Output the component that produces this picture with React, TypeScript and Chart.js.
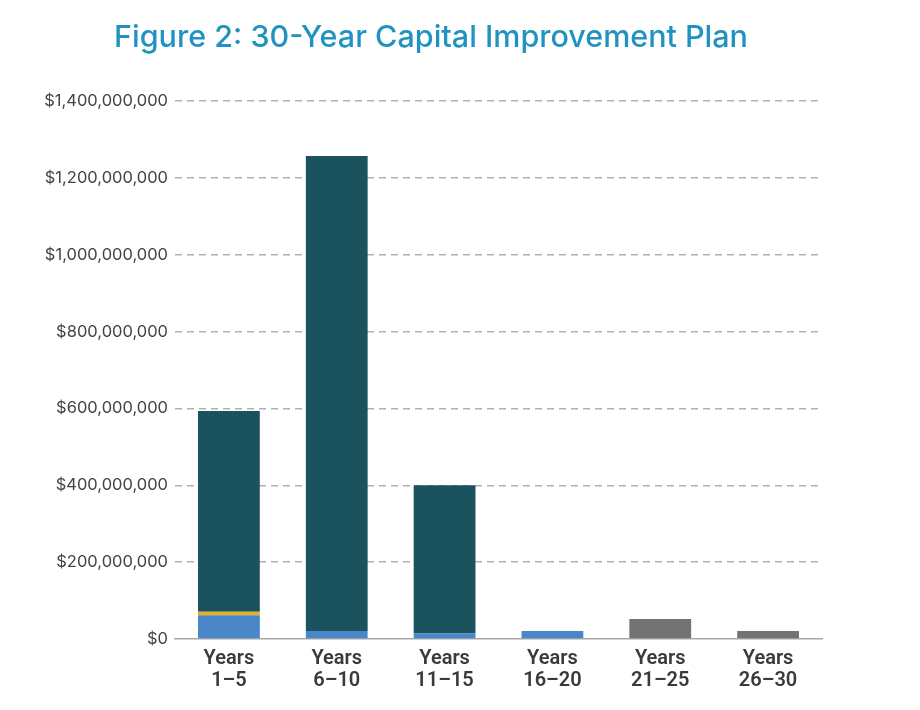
import { useEffect, useRef } from 'react'
import { Chart, registerables } from 'chart.js'

Chart.register(...registerables)

const categories = [
  ['Years', '1–5'],
  ['Years', '6–10'],
  ['Years', '11–15'],
  ['Years', '16–20'],
  ['Years', '21–25'],
  ['Years', '26–30'],
]
const blueValues = [62000000, 21000000, 14000000, 21000000, 0, 0]
const yellowValues = [9000000, 0, 0, 0, 0, 0]
const tealValues = [522000000, 1236000000, 386000000, 0, 0, 0]
const grayValues = [0, 0, 0, 0, 52000000, 21000000]
const yTicks = [0, 200000000, 400000000, 600000000, 800000000, 1000000000, 1200000000, 1400000000]

const FONT = 'Inter, "Noto Sans", sans-serif'

export default function App() {
  const canvasRef = useRef<HTMLCanvasElement>(null)
  const chartRef = useRef<Chart | null>(null)

  useEffect(() => {
    if (!canvasRef.current) return
    const bar = { barPercentage: 0.573, categoryPercentage: 1, borderWidth: 0, stack: 's' }
    chartRef.current = new Chart(canvasRef.current, {
      type: 'bar',
      data: {
        labels: categories,
        datasets: [
          { label: 'Blue', data: blueValues, backgroundColor: '#4a86c8', ...bar },
          { label: 'Yellow', data: yellowValues, backgroundColor: '#e8b020', ...bar },
          { label: 'Teal', data: tealValues, backgroundColor: '#1a535e', ...bar },
          { label: 'Gray', data: grayValues, backgroundColor: '#737373', ...bar },
        ],
      },
      options: {
        animation: false,
        responsive: true,
        maintainAspectRatio: false,
        layout: { padding: { top: 93, right: 90, left: 0, bottom: 0 } },
        plugins: { legend: { display: false }, tooltip: { enabled: false } },
        scales: {
          x: {
            stacked: true,
            grid: { display: false },
            border: { display: true, color: '#a8a8a8', width: 1.5 },
            ticks: {
              color: '#3a3a3a',
              padding: 1,
              maxRotation: 0,
              font: { family: 'Roboto, sans-serif', size: 20, weight: 600, lineHeight: 1.1 },
            },
            afterFit: (s) => {
              s.height = 63
            },
          },
          y: {
            stacked: true,
            min: 0,
            max: 1400000000,
            afterBuildTicks: (s) => {
              s.ticks = yTicks.map((v) => ({ value: v }))
            },
            afterFit: (s) => {
              s.width = 167
            },
            border: { display: false, dash: [7, 5] },
            grid: {
              color: (ctx) => (ctx.tick && ctx.tick.value === 0 ? 'rgba(0,0,0,0)' : '#b0b0b0'),
              lineWidth: 1.5,
              drawTicks: false,
            },
            ticks: {
              color: '#444',
              padding: 7,
              font: { family: FONT, size: 16.5 },
              callback: (v) => '$' + Number(v).toLocaleString('en-US'),
            },
          },
        },
      },
    })
    return () => {
      chartRef.current?.destroy()
      chartRef.current = null
    }
  }, [])

  return (
    <div style={{ position: 'relative', width: 904, height: 694, background: '#fff' }}>
      <div
        style={{
          position: 'absolute',
          top: 9,
          left: 0,
          width: 846,
          textAlign: 'center',
          color: '#2093c0',
          fontFamily: FONT,
          fontSize: 30.5,
          fontWeight: 500,
        }}
      >
        Figure 2: 30-Year Capital Improvement Plan
      </div>
      <canvas ref={canvasRef} />
    </div>
  )
}
